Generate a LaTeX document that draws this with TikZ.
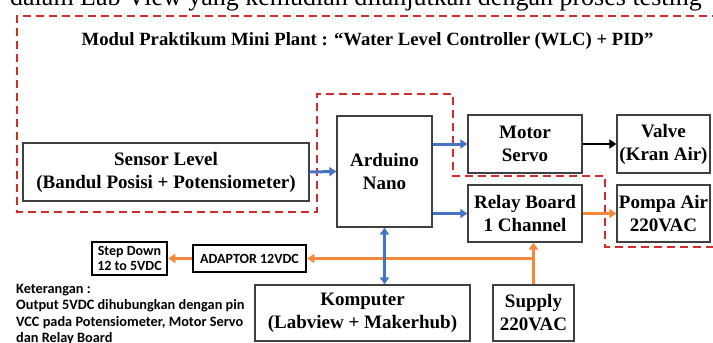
\documentclass[tikz,border=0pt]{standalone}
\usepackage{fontspec}
\setmainfont{Liberation Serif}
\newfontfamily\calibri{Carlito}
\usepackage{tikz}
\usetikzlibrary{arrows.meta,positioning}
\definecolor{wlcblue}{HTML}{4472C4}
\definecolor{wlcorange}{HTML}{F5883A}
\definecolor{wlcred}{HTML}{D42A2A}
\definecolor{boxgray}{HTML}{404040}

\begin{document}
\begin{tikzpicture}[x=1pt,y=-1pt,
  blok/.style={draw=boxgray,line width=1.3pt,align=center,inner sep=0pt,font=\fontsize{19}{23}\selectfont\bfseries},
  kotak/.style={draw=black,line width=2.6pt,align=center,inner sep=0pt,font=\calibri\fontsize{14}{15}\selectfont\bfseries},
  biru/.style={wlcblue,line width=3pt,-{Triangle[length=7pt,width=9pt]}},
  oranye/.style={wlcorange,line width=3pt,-{Triangle[length=7pt,width=9pt]}},
  batas/.style={wlcred,line width=2.6pt,dash pattern=on 8pt off 5pt}]
  \useasboundingbox (0,0) rectangle (713,343);
  \clip (0,0) rectangle (713,343);
  \node[anchor=base west,inner sep=0pt,font=\fontsize{26}{30}\selectfont] (kalimat) at (10,5) {dalam Lab View yang kemudian dilanjutkan dengan proses testing};
  \node[font=\fontsize{18.7}{22}\selectfont\bfseries] (judul) at (367.5,41) {Modul Praktikum Mini Plant : “Water Level Controller (WLC) + PID”};
  \draw[batas] (720,16) -- (17,16) -- (17,212) -- (317,212) -- (317,94) -- (453,94) -- (453,176) -- (605,176) -- (605,247) -- (720,247);

  \node[blok,minimum width=286pt,minimum height=58pt] (sensor) at (166,172) {Sensor Level\\(Bandul Posisi + Potensiometer)};
  \node[blok,minimum width=95pt,minimum height=111pt] (arduino) at (384.5,171.5) {Arduino\\Nano};
  \node[blok,minimum width=114pt,minimum height=58pt] (motor) at (525,144) {Motor\\Servo};
  \node[blok,minimum width=93pt,minimum height=58pt] (valve) at (663.5,144) {Valve\\(Kran Air)};
  \node[blok,minimum width=114pt,minimum height=57pt] (relay) at (525,213.5) {Relay Board\\1 Channel};
  \node[blok,minimum width=93pt,minimum height=57pt] (pompa) at (663.5,213.5) {Pompa Air\\220VAC};
  \node[blok,minimum width=215pt,minimum height=56pt] (komputer) at (362.5,313) {Komputer\\(Labview + Makerhub)};
  \node[blok,minimum width=81pt,minimum height=56pt] (supply) at (533.5,313) {Supply\\220VAC};
  \node[kotak,minimum width=113pt,minimum height=27pt] (adaptor) at (249.5,258.5) {ADAPTOR 12VDC};
  \node[kotak,minimum width=75pt,minimum height=33pt] (stepdown) at (129.5,258.5) {Step Down\\12 to 5VDC};
  \node[anchor=north west,align=left,inner sep=0pt,font=\calibri\fontsize{14.3}{16.3}\selectfont\bfseries] (keterangan) at (16,284) {Keterangan :\\Output 5VDC dihubungkan dengan pin\\VCC pada Potensiometer, Motor Servo\\dan Relay Board};

  \coordinate (cabang) at (supply.north |- adaptor.east);
  \draw[oranye] (cabang) -- (adaptor.east);
  \draw[oranye] (adaptor.west) -- (stepdown.east);
  \draw[oranye] (supply.north) -- (supply.north |- relay.south);
  \draw[oranye] (relay.east) -- (pompa.west);
  \draw[biru] (sensor.east) -- (arduino.west);
  \draw[biru] (arduino.east |- motor) -- (motor.west);
  \draw[biru] (arduino.east |- relay) -- (relay.west);
  \draw[biru,{Triangle[length=7pt,width=9pt]}-{Triangle[length=7pt,width=9pt]}] (arduino.south) -- (arduino.south |- komputer.north);
  \draw[line width=2pt,-{Triangle[length=7pt,width=9pt]}] (motor.east) -- (valve.west);
\end{tikzpicture}
\end{document}
